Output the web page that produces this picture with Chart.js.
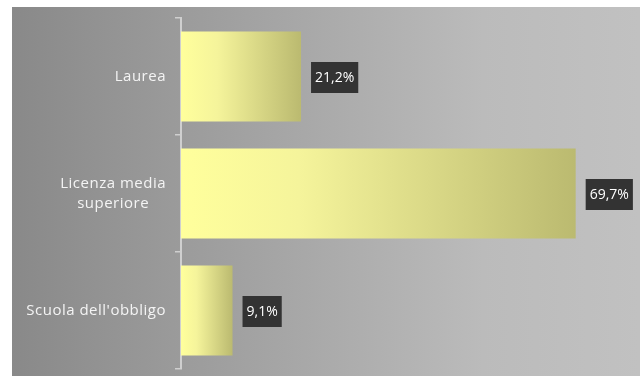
<!DOCTYPE html>
<html lang="it">
<head>
<meta charset="utf-8">
<title>Titolo di studio</title>
<script src="https://cdn.jsdelivr.net/npm/chart.js@4/dist/chart.umd.min.js"></script>
<style>
  html, body { margin: 0; padding: 0; background: #fff; }
  #wrap { width: 640px; height: 376px; position: relative; }
</style>
</head>
<body>
<div id="wrap"><canvas id="studioChart"></canvas></div>
<script>
'use strict';

/* ── DATA ── */
const categories = ['Laurea', ['Licenza media', 'superiore'], "Scuola dell'obbligo"];
const shares = [21.2, 69.7, 9.1];
const valueLabels = ['21,2%', '69,7%', '9,1%'];

const LABEL_FONT = "15px 'Open Sans', sans-serif";

/* ── Grey panel behind the plot ── */
const panelBackground = {
  id: 'panelBackground',
  beforeDraw(chart) {
    const { ctx, width, height } = chart;
    ctx.save();
    const g = ctx.createLinearGradient(12, 0, width, 0);
    g.addColorStop(0, '#898989');
    g.addColorStop(0.75, '#bbbbbb');
    g.addColorStop(1, '#c1c1c1');
    ctx.fillStyle = g;
    ctx.fillRect(12, 7, width - 12, height - 7);
    ctx.restore();
  },
};

/* ── Category names: block right-aligned, lines centred inside it ── */
const categoryNames = {
  id: 'categoryNames',
  afterDraw(chart) {
    const { ctx } = chart;
    const yScale = chart.scales.y;
    const right = yScale.right - 6 - 9;
    const lineH = 20;
    ctx.save();
    ctx.font = LABEL_FONT;
    ctx.letterSpacing = '0.5px';
    ctx.fillStyle = '#f4f4f4';
    ctx.textAlign = 'center';
    ctx.textBaseline = 'middle';
    yScale.ticks.forEach((tick, i) => {
      const lines = [].concat(chart.data.labels[i]);
      const blockW = Math.max(...lines.map(l => ctx.measureText(l).width));
      const cx = right - blockW / 2;
      const cy = yScale.getPixelForTick(i);
      const top = cy - (lines.length - 1) * lineH / 2;
      lines.forEach((l, j) => ctx.fillText(l, cx, top + j * lineH));
    });
    ctx.restore();
  },
};

/* ── Dark value boxes right of each bar ── */
const valueBoxes = {
  id: 'valueBoxes',
  afterDatasetsDraw(chart) {
    const { ctx } = chart;
    const meta = chart.getDatasetMeta(0);
    ctx.save();
    ctx.font = "14px 'Open Sans', sans-serif";
    ctx.textBaseline = 'middle';
    ctx.textAlign = 'center';
    meta.data.forEach((bar, i) => {
      const text = valueLabels[i];
      const w = ctx.measureText(text).width + 8;
      const h = 31;
      const x = bar.x + 10;
      const y = bar.y - h / 2 + 1;
      ctx.fillStyle = '#333333';
      ctx.fillRect(x, y, w, h);
      ctx.fillStyle = '#ffffff';
      ctx.fillText(text, x + w / 2, y + h / 2 + 1);
    });
    ctx.restore();
  },
};

function barGradient(context) {
  const chart = context.chart;
  const xScale = chart.scales.x;
  if (!chart.chartArea || !xScale) return '#f0f09a';
  const left = xScale.getPixelForValue(0);
  const right = xScale.getPixelForValue(context.raw);
  const g = chart.ctx.createLinearGradient(left, 0, right, 0);
  g.addColorStop(0, '#ffff9c');
  g.addColorStop(0.3, '#f5f49b');
  g.addColorStop(1, '#bbba70');
  return g;
}

new Chart(document.getElementById('studioChart'), {
  type: 'bar',
  data: {
    labels: categories,
    datasets: [{
      data: shares,
      backgroundColor: barGradient,
      borderWidth: 0,
      barPercentage: 0.77,
      categoryPercentage: 1,
    }],
  },
  options: {
    indexAxis: 'y',
    responsive: true,
    maintainAspectRatio: false,
    animation: false,
    layout: { padding: { left: 12, top: 18, right: 6, bottom: 7 } },
    plugins: {
      legend: { display: false },
      tooltip: { enabled: false },
    },
    scales: {
      x: {
        display: false,
        min: 0,
        max: 80,
      },
      y: {
        afterFit(scale) {
          scale.width = 169;
          scale.paddingTop = 0;
          scale.paddingBottom = 0;
        },
        grid: {
          drawOnChartArea: false,
          drawTicks: true,
          tickLength: 6,
          color: '#cfcfcf',
          lineWidth: 1.5,
        },
        border: { color: '#cfcfcf', width: 2 },
        ticks: {
          color: 'rgba(0,0,0,0)',
          padding: 9,
          font: { family: "'Open Sans', sans-serif", size: 15 },
        },
      },
    },
  },
  plugins: [panelBackground, valueBoxes, categoryNames],
});
</script>
</body>
</html>
